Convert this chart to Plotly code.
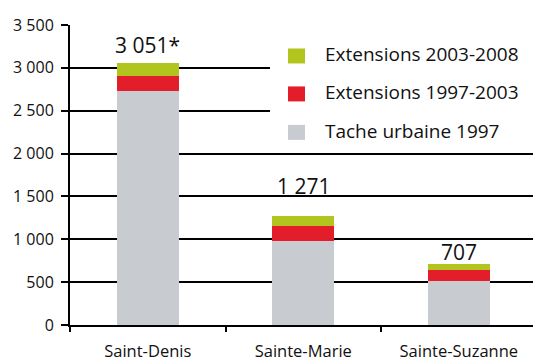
import plotly.graph_objects as go

# Urban area (ha) by commune, stacked by period of urbanisation
communes = ["Saint-Denis", "Sainte-Marie", "Sainte-Suzanne"]
tache_1997 = [2735, 980, 515]
ext_1997_2003 = [170, 176, 125]
ext_2003_2008 = [146, 115, 67]
totals = [3051, 1271, 707]
total_labels = ["3 051*", "1 271", "707"]
label_shift = [18, 30, 12]

series_names = ["Tache urbaine 1997", "Extensions 1997-2003", "Extensions 2003-2008"]
series_values = [tache_1997, ext_1997_2003, ext_2003_2008]
series_colors = ["#c8cbcf", "#e31e2a", "#b2c51e"]

FONT = "Open Sans"
INK = "#111111"

fig = go.Figure()
for name, vals, col in zip(series_names, series_values, series_colors):
    fig.add_trace(go.Bar(
        x=communes, y=vals, name=name,
        marker=dict(color=col, line=dict(width=0)),
        width=0.4, showlegend=False,
    ))

# totals above each stack
for c, t, lab, s in zip(communes, totals, total_labels, label_shift):
    fig.add_annotation(x=c, y=t, text=lab, showarrow=False,
                       yanchor="middle", yshift=s,
                       font=dict(family=FONT, size=21, color=INK))

# legend drawn as a white panel with swatches
fig.add_shape(type="rect", xref="paper", yref="paper",
              x0=(270 - 70) / 463, x1=1.0, y0=(325.3 - 150) / 300.3, y1=(325.3 - 33) / 300.3,
              fillcolor="white", line=dict(width=0), layer="above")
legend_rows_px = [56, 94, 132.5]
for name, col, ypx in zip(series_names[::-1], series_colors[::-1], legend_rows_px):
    yp = (325.3 - ypx) / 300.3
    fig.add_shape(type="rect", xref="paper", yref="paper",
                  x0=(288 - 70) / 463, x1=(305 - 70) / 463,
                  y0=yp - 7.5 / 300.3, y1=yp + 7.5 / 300.3,
                  fillcolor=col, line=dict(width=0), layer="above")
    fig.add_annotation(xref="paper", yref="paper", x=(323 - 70) / 463, y=yp + 1.5 / 300.3,
                       text=name, showarrow=False, xanchor="left", yanchor="middle",
                       font=dict(family=FONT, size=19, color=INK))

fig.update_layout(
    width=533, height=361,
    margin=dict(l=70, r=0, t=25, b=36),
    barmode="stack",
    plot_bgcolor="white", paper_bgcolor="white",
    separators=", ",
    font=dict(family=FONT, size=14, color=INK),
    showlegend=False,
)
fig.update_xaxes(
    range=[-0.5, 2.477], tickson="boundaries",
    showline=True, linecolor="black", linewidth=1.5,
    ticks="outside", ticklen=5, tickwidth=1.5, tickcolor="black",
    showgrid=False, tickfont=dict(size=16.5), ticklabelstandoff=10,
)
fig.update_yaxes(
    range=[0, 3500], dtick=500, separatethousands=True,
    showline=True, linecolor="black", linewidth=2,
    ticks="outside", ticklen=7, tickwidth=1.5, tickcolor="black",
    showgrid=True, gridcolor="black", gridwidth=1.5,
    zeroline=False, tickfont=dict(size=16), ticklabelstandoff=4,
)

fig.write_html("out.html")
